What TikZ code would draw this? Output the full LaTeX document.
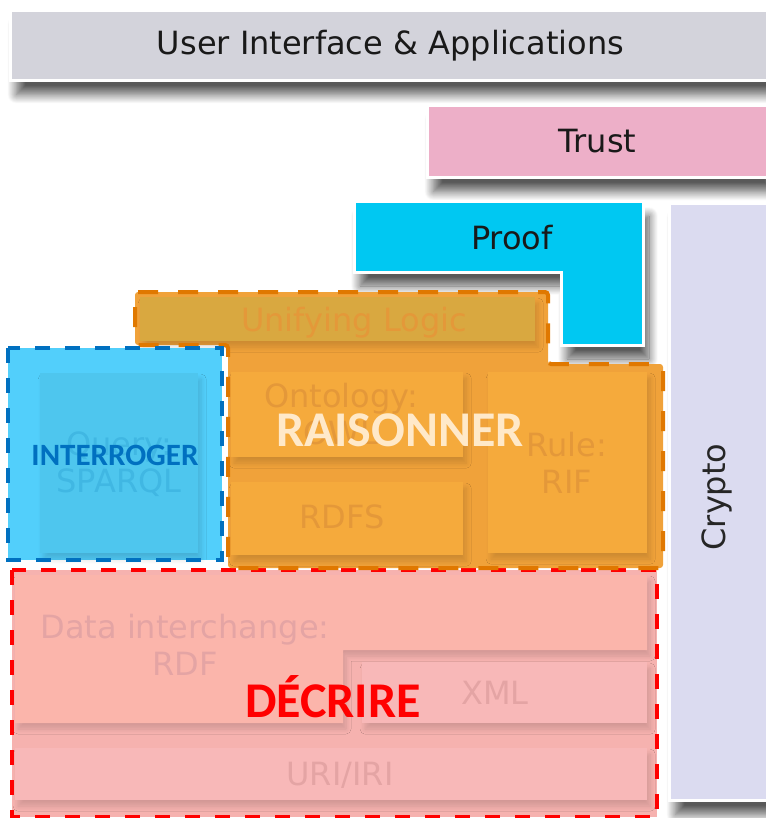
\documentclass[tikz,border=0pt]{standalone}
\usepackage{fontspec}
\setmainfont{DejaVu Sans}
\newfontfamily\calibri{Carlito}
\usepackage{tikz}
\usetikzlibrary{positioning,shadows.blur}

\definecolor{uigray}{HTML}{D3D3DB}
\definecolor{trustpink}{HTML}{EDAFC8}
\definecolor{proofcyan}{HTML}{00C8F2}
\definecolor{cryptolav}{HTML}{DBDBF0}
\definecolor{raisfill}{HTML}{F0A23A}
\definecolor{raisbox}{HTML}{F5AA3C}
\definecolor{logicfill}{HTML}{D9A840}
\definecolor{raistext}{HTML}{E49839}
\definecolor{raisline}{HTML}{E07800}
\definecolor{raislabel}{HTML}{FFE9C9}
\definecolor{interfill}{HTML}{52CFFB}
\definecolor{interbox}{HTML}{4EC6EE}
\definecolor{intertext}{HTML}{40B7E3}
\definecolor{interline}{HTML}{0070C0}
\definecolor{decfill}{HTML}{F6B2AF}
\definecolor{decbox}{HTML}{FBB5AB}
\definecolor{decuri}{HTML}{F8B8B8}
\definecolor{dectext}{HTML}{E4A4A4}

\begin{document}
\begin{tikzpicture}[x=1pt, y=-1pt,
  layer/.style={draw=white, line width=3pt, anchor=north west, inner sep=0pt,
    font=\fontsize{32}{37}\selectfont, text=black!90, align=center},
  topshadow/.style={blur shadow={shadow xshift=6pt, shadow yshift=-14pt,
    shadow blur radius=9pt, shadow blur steps=16, shadow opacity=65}},
  boxshadow/.style={blur shadow={shadow xshift=3pt, shadow yshift=-6pt,
    shadow blur radius=5pt, shadow blur steps=8, shadow opacity=14}},
  sublayer/.style={anchor=north west, inner sep=0pt, boxshadow},
  faded/.style={font=\fontsize{32}{37}\selectfont, align=center, inner sep=0pt},
  zone/.style={line width=4pt, dash pattern=on 15pt off 15pt},
  zonelabel/.style={font=\calibri\bfseries\fontsize{50}{50}\selectfont, inner sep=0pt}
]
  \useasboundingbox (0,0) rectangle (765,818);

  % Upper layers of the stack
  \node[layer, fill=uigray, topshadow, minimum width=760pt, minimum height=70pt]
    (ui) at (9,9) {User Interface \& Applications};
  \node[layer, fill=trustpink, topshadow, minimum width=340pt, minimum height=72pt]
    (trust) at (426,104) {Trust};
  \node[layer, fill=cryptolav, topshadow, minimum width=100pt, minimum height=597pt]
    (crypto) at (668,202) {};
  \node[faded, rotate=90, text=black!85] (cryptotext) at (717,497) {Crypto};

  % Proof (L-shaped)
  \path[fill=proofcyan, draw=white, line width=3pt, topshadow]
    (354,202) -- (643,202) -- (643,345) -- (561,345) -- (561,272) -- (354,272) -- cycle;
  \node[faded, text=black!90] (prooftext) at (512,238) {Proof};

  % DECRIRE zone
  \path[fill=decfill] (12,570) rectangle (657,817);
  \path[fill=decbox, boxshadow]
    (15,575) -- (647,575) -- (647,650) -- (343,650) -- (343,723) -- (15,723) -- cycle;
  \node[faded, text=dectext] (rdf) at (185,645) {Data interchange:\\RDF};
  \node[sublayer, fill=decuri, minimum width=285pt, minimum height=61pt] (xml) at (362,662) {};
  \node[faded, text=dectext] (xmltext) at (495,693) {XML};
  \node[sublayer, fill=decuri, minimum width=632pt, minimum height=52pt] (uri) at (15,748) {};
  \node[faded, text=dectext] (uritext) at (340,775) {URI/IRI};
  \node[zonelabel, text=red] (decrire) at (333,697) {DÉCRIRE};
  \draw[zone, red] (12,570) rectangle (657,817);

  % RAISONNER zone
  \path[fill=raisfill, rounded corners=3pt]
    (135,292) -- (548,292) -- (548,364) -- (663,364) -- (663,568)
    -- (228,568) -- (228,345) -- (135,345) -- cycle;
  \node[sublayer, fill=logicfill, minimum width=395pt, minimum height=44pt] (logic) at (140,297) {};
  \node[faded, text=raistext] (logictext) at (354,323) {Unifying Logic};
  \node[sublayer, fill=raisbox, minimum width=232pt, minimum height=85pt] (owl) at (231,372) {};
  \node[faded, text=raistext] (owltext) at (341,414) {Ontology:\\OWL};
  \node[sublayer, fill=raisbox, minimum width=232pt, minimum height=73pt] (rdfs) at (231,482) {};
  \node[faded, text=raistext] (rdfstext) at (342,517) {RDFS};
  \node[sublayer, fill=raisbox, minimum width=159pt, minimum height=181pt] (rif) at (488,372) {};
  \node[faded, text=raistext] (riftext) at (567,463) {Rule:\\RIF};
  \node[zonelabel, text=raislabel] (raisonner) at (400,430) {RAISONNER};
  \draw[zone, raisline, dash pattern=on 20pt off 20pt, rounded corners=3pt]
    (135,292) -- (548,292) -- (548,364) -- (663,364) -- (663,568)
    -- (228,568) -- (228,345) -- (135,345) -- cycle;

  % INTERROGER zone
  \path[fill=interfill] (8,348) rectangle (222,560);
  \node[sublayer, fill=interbox, minimum width=158pt, minimum height=180pt] (sparql) at (40,373) {};
  \node[faded, text=intertext] (sparqltext) at (119,464) {Query:\\SPARQL};
  \node[zonelabel, font=\calibri\bfseries\fontsize{31}{31}\selectfont, text=interline]
    (interroger) at (115,455) {INTERROGER};
  \draw[zone, interline] (8,348) rectangle (222,560);
\end{tikzpicture}
\end{document}
